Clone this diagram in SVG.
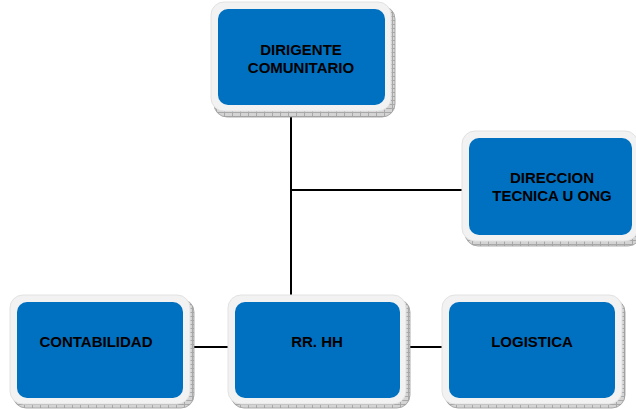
<svg xmlns="http://www.w3.org/2000/svg" width="636" height="409" viewBox="0 0 636 409">
  <defs>
    <pattern id="hatch" width="8" height="4" patternUnits="userSpaceOnUse">
      <rect width="8" height="4" fill="#d4d4d4"/>
      <path d="M0 0.5H8M0.5 0V4" stroke="#a8a8a8" stroke-width="1"/>
    </pattern>
    <style>
      .shadow { fill: url(#hatch); stroke: #9a9a9a; stroke-width: 0.8; }
      .frame { fill: #f2f2f2; stroke: #e2e2e2; stroke-width: 1; }
      .box { fill: #0070c0; }
      .lbl { font-family: "Liberation Sans", Arial, sans-serif; font-weight: bold; font-size: 15px; fill: #000; text-anchor: middle; }
      .conn { stroke: #000; stroke-width: 2; fill: none; }
    </style>
  </defs>

  <g id="connectors">
    <line class="conn" x1="291" y1="110" x2="291" y2="297"/>
    <line class="conn" x1="290" y1="190" x2="466" y2="190"/>
    <line class="conn" x1="190" y1="347" x2="229" y2="347"/>
    <line class="conn" x1="404" y1="347" x2="446" y2="347"/>
  </g>

  <g id="dirigente">
    <rect class="shadow" x="214" y="6" width="181" height="111" rx="13"/>
    <rect class="frame" x="211" y="2" width="180" height="109" rx="13"/>
    <rect class="box" x="218" y="9" width="167" height="96" rx="10"/>
    <text class="lbl" x="301" y="54.5">DIRIGENTE</text>
    <text class="lbl" x="301" y="72.5">COMUNITARIO</text>
  </g>

  <g id="direccion">
    <rect class="shadow" x="465" y="135" width="176" height="111" rx="13"/>
    <rect class="frame" x="462" y="131" width="176" height="110" rx="13"/>
    <rect class="box" x="469" y="138" width="163" height="97" rx="10"/>
    <text class="lbl" x="552" y="183">DIRECCION</text>
    <text class="lbl" x="552" y="201">TECNICA U ONG</text>
  </g>

  <g id="contabilidad">
    <rect class="shadow" x="13" y="299" width="181" height="109" rx="13"/>
    <rect class="frame" x="10" y="295" width="180" height="109" rx="13"/>
    <rect class="box" x="17" y="302" width="166" height="96" rx="10"/>
    <text class="lbl" x="96" y="347">CONTABILIDAD</text>
  </g>

  <g id="rrhh">
    <rect class="shadow" x="231" y="299" width="179" height="109" rx="13"/>
    <rect class="frame" x="228" y="295" width="178" height="109" rx="13"/>
    <rect class="box" x="235" y="302" width="165" height="96" rx="10"/>
    <text class="lbl" x="317" y="347">RR. HH</text>
  </g>

  <g id="logistica">
    <rect class="shadow" x="445" y="299" width="180" height="109" rx="13"/>
    <rect class="frame" x="442" y="295" width="180" height="109" rx="13"/>
    <rect class="box" x="449" y="302" width="166" height="96" rx="10"/>
    <text class="lbl" x="532" y="347">LOGISTICA</text>
  </g>
</svg>
